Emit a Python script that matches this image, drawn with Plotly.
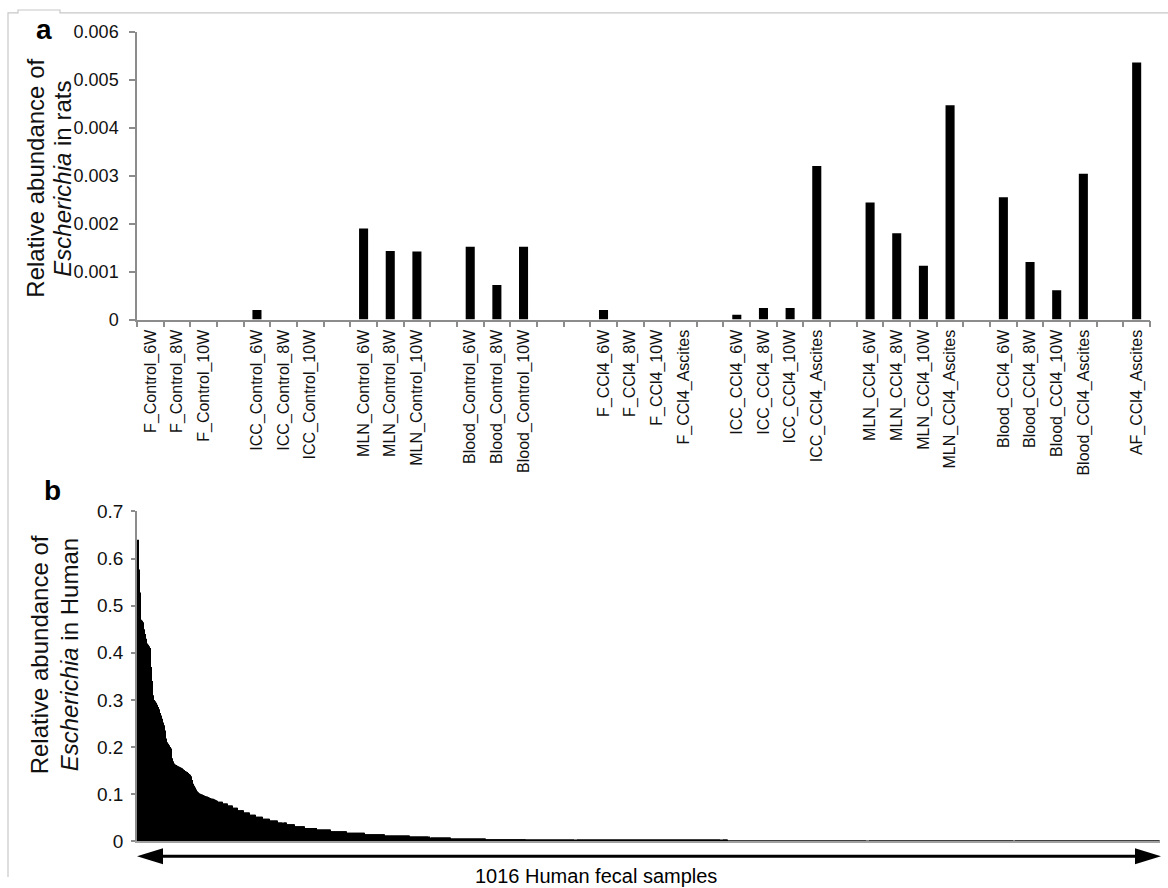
import numpy as np
import plotly.graph_objects as go

W, H = 1168, 888

# ---------------- Panel a data (rats) ----------------
rat_categories = [
    "F_Control_6W", "F_Control_8W", "F_Control_10W",
    "ICC_Control_6W", "ICC_Control_8W", "ICC_Control_10W",
    "MLN_Control_6W", "MLN_Control_8W", "MLN_Control_10W",
    "Blood_Control_6W", "Blood_Control_8W", "Blood_Control_10W",
    "F_CCl4_6W", "F_CCl4_8W", "F_CCl4_10W", "F_CCl4_Ascites",
    "ICC_CCl4_6W", "ICC_CCl4_8W", "ICC_CCl4_10W", "ICC_CCl4_Ascites",
    "MLN_CCl4_6W", "MLN_CCl4_8W", "MLN_CCl4_10W", "MLN_CCl4_Ascites",
    "Blood_CCl4_6W", "Blood_CCl4_8W", "Blood_CCl4_10W", "Blood_CCl4_Ascites",
    "AF_CCl4_Ascites",
]
rat_values = [
    0, 0, 0,
    0.0002, 0, 0,
    0.0019, 0.00143, 0.00142,
    0.00152, 0.00072, 0.00152,
    0.0002, 0, 0, 0,
    0.0001, 0.00024, 0.00024, 0.0032,
    0.00244, 0.0018, 0.00112, 0.00447,
    0.00255, 0.0012, 0.00061, 0.00304,
    0.00536,
]
rat_group_sizes = [3, 3, 3, 3, 4, 4, 4, 4, 1]
rat_gaps_after = [1, 1, 1, 2, 1, 1, 1, 1, 0]
rat_ytick_vals = [0, 0.001, 0.002, 0.003, 0.004, 0.005, 0.006]
rat_ytick_text = ["0", "0.001", "0.002", "0.003", "0.004", "0.005", "0.006"]
rat_title_lines = ["Relative abundance of", "<i>Escherichia</i> in rats"]

# ---------------- Panel b data (human, sorted) ----------------
human_head = [
    0.64, 0.577, 0.528, 0.47, 0.468, 0.465, 0.45, 0.44, 0.43, 0.42,
    0.417, 0.414, 0.41, 0.37, 0.34, 0.31, 0.30, 0.297, 0.294, 0.29,
    0.285, 0.28, 0.272, 0.267, 0.26, 0.252, 0.246, 0.235, 0.218, 0.21,
    0.207, 0.204, 0.20, 0.197, 0.176, 0.17, 0.165, 0.163, 0.162, 0.16,
    0.159, 0.158, 0.157, 0.156, 0.155, 0.153, 0.151, 0.149, 0.148, 0.147,
    0.145, 0.143, 0.141, 0.138, 0.13, 0.122, 0.118, 0.114, 0.11, 0.106,
    0.104, 0.102, 0.101, 0.10, 0.099, 0.098, 0.097, 0.096, 0.095, 0.095,
    0.094, 0.093, 0.092, 0.091, 0.09, 0.09, 0.089, 0.088, 0.087, 0.086,
]
human_tail_levels = [
    0.084, 0.08, 0.076, 0.071, 0.066, 0.061, 0.056, 0.052, 0.048, 0.044,
    0.04, 0.036, 0.032, 0.028, 0.025, 0.021, 0.018, 0.015, 0.012, 0.01,
    0.008, 0.006, 0.004, 0.002, 0.0015, 0.0005,
]
human_tail_counts = [
    5, 5, 5, 5, 6, 6, 6, 7, 7, 8,
    8, 8, 10, 12, 14, 16, 18, 20, 25, 20,
    20, 35, 40, 200, 290, 140,
]
human_ytick_vals = [0, 0.1, 0.2, 0.3, 0.4, 0.5, 0.6, 0.7]
human_ytick_text = ["0", "0.1", "0.2", "0.3", "0.4", "0.5", "0.6", "0.7"]
human_title_lines = ["Relative abundance of", "<i>Escherichia</i> in Human"]
human_caption = "1016 Human fecal samples"

# ---------------- build ----------------
x_slots, y_slots = [], []
k = 0
blank_id = 1
for size, gap in zip(rat_group_sizes, rat_gaps_after):
    for _ in range(size):
        x_slots.append(rat_categories[k])
        y_slots.append(rat_values[k])
        k += 1
    for _ in range(gap):
        x_slots.append(" " * blank_id)
        y_slots.append(None)
        blank_id += 1

human_values = list(human_head) + list(np.repeat(human_tail_levels, human_tail_counts))
human_idx = list(range(len(human_values)))

# the photographed page is squeezed vertically a little; place things by target pixel
Y_OFF, Y_SCALE = 10.2, 0.977

def px(x):
    return x / W

def py(y):
    yl = (y - Y_OFF) / Y_SCALE
    return min(1.0, max(0.0, 1 - yl / H))

FONT = "Arial, Liberation Sans, sans-serif"
AXC = "#8c8c8c"
TXT = "#111111"

fig = go.Figure()
fig.add_trace(go.Bar(x=x_slots, y=y_slots, marker=dict(color="black", line=dict(width=0)),
                     xaxis="x", yaxis="y", showlegend=False, hoverinfo="x+y"))
fig.add_trace(go.Bar(x=human_idx, y=human_values, width=1.0,
                     marker=dict(color="black", line=dict(width=0)),
                     xaxis="x2", yaxis="y2", showlegend=False))

fig.update_layout(
    width=W, height=H,
    margin=dict(l=0, r=0, t=0, b=0),
    paper_bgcolor="white", plot_bgcolor="white",
    bargap=0.66, bargroupgap=0,
    font=dict(family=FONT, color=TXT),
    xaxis=dict(
        domain=[px(137), px(1150)], anchor="y",
        type="category", categoryorder="array", categoryarray=x_slots,
        showline=True, linecolor=AXC, linewidth=1.5,
        ticks="outside", tickson="boundaries", ticklen=6, tickcolor=AXC, tickwidth=1.5,
        tickangle=-90, tickfont=dict(size=16, color=TXT, family=FONT),
        ticklabelstandoff=2,
        showgrid=False, zeroline=False,
    ),
    yaxis=dict(
        domain=[py(320), py(32)], anchor="x",
        range=[0, 0.006], tickvals=rat_ytick_vals, ticktext=rat_ytick_text,
        showline=True, linecolor=AXC, linewidth=1.5,
        ticks="outside", ticklen=6, tickcolor=AXC, tickwidth=1.5,
        tickfont=dict(size=18, color=TXT, family=FONT),
        ticklabelstandoff=7,
        showgrid=False, zeroline=False,
    ),
    xaxis2=dict(
        domain=[px(137), px(1160)], anchor="y2",
        range=[-0.5, len(human_values) - 0.5],
        showline=True, linecolor="#a0a0a0", linewidth=1.5,
        ticks="", showticklabels=False, showgrid=False, zeroline=False,
    ),
    yaxis2=dict(
        domain=[py(842), py(512)], anchor="x2",
        range=[0, 0.7], tickvals=human_ytick_vals, ticktext=human_ytick_text,
        showline=True, linecolor=AXC, linewidth=1.5,
        ticks="outside", ticklen=4, tickcolor=AXC, tickwidth=1.5,
        tickfont=dict(size=19, color=TXT, family=FONT),
        ticklabelstandoff=4,
        showgrid=False, zeroline=False,
    ),
)

def title_line(text, x, y):
    return dict(text=text, x=px(x), y=py(y), xref="paper", yref="paper", showarrow=False,
                textangle=-90, font=dict(size=24, family=FONT, color=TXT),
                xanchor="center", yanchor="middle")

annotations = [
    dict(text="<b>a</b>", x=px(44), y=py(30), xref="paper", yref="paper",
         showarrow=False, font=dict(size=28, family=FONT, color="black"),
         xanchor="center", yanchor="middle"),
    dict(text="<b>b</b>", x=px(52), y=py(491), xref="paper", yref="paper",
         showarrow=False, font=dict(size=28, family=FONT, color="black"),
         xanchor="center", yanchor="middle"),
    title_line(rat_title_lines[0], 36, 179),
    title_line(rat_title_lines[1], 63, 179),
    title_line(human_title_lines[0], 39, 656),
    title_line(human_title_lines[1], 69, 656),
    dict(text=human_caption, x=px(596), y=py(877), xref="paper", yref="paper",
         showarrow=False, font=dict(size=20, family=FONT, color="black"),
         xanchor="center", yanchor="middle"),
]
fig.update_layout(annotations=annotations)

ay = 857
shapes = [
    dict(type="line", xref="paper", yref="paper", x0=px(155), x1=px(1142), y0=py(ay), y1=py(ay),
         line=dict(color="black", width=3)),
    dict(type="path", xref="paper", yref="paper",
         path=f"M {px(137)},{py(ay)} L {px(163)},{py(ay-8)} L {px(163)},{py(ay+8)} Z",
         fillcolor="black", line=dict(width=0)),
    dict(type="path", xref="paper", yref="paper",
         path=f"M {px(1161)},{py(ay)} L {px(1135)},{py(ay-8)} L {px(1135)},{py(ay+8)} Z",
         fillcolor="black", line=dict(width=0)),
    dict(type="path", xref="paper", yref="paper",
         path=(f"M {px(8)},{py(888)} L {px(8)},{py(13)} L {px(18)},{py(13)} L {px(18)},{py(5)} "
               f"L {px(60)},{py(5)} L {px(60)},{py(13)} L {px(1168)},{py(13)}"),
         line=dict(color="#c8c8c8", width=1.2)),
]
fig.update_layout(shapes=shapes)

fig.write_html(
    "out.html",
    config={"displayModeBar": False},
    post_script=(
        "document.documentElement.style.margin='0px';"
        "document.body.style.margin='0px';document.body.style.padding='0px';"
        "document.body.style.overflow='hidden';"
        "var gd=document.getElementById('{plot_id}');"
        "gd.style.position='fixed';gd.style.top='0px';gd.style.left='0px';"
    ),
)
